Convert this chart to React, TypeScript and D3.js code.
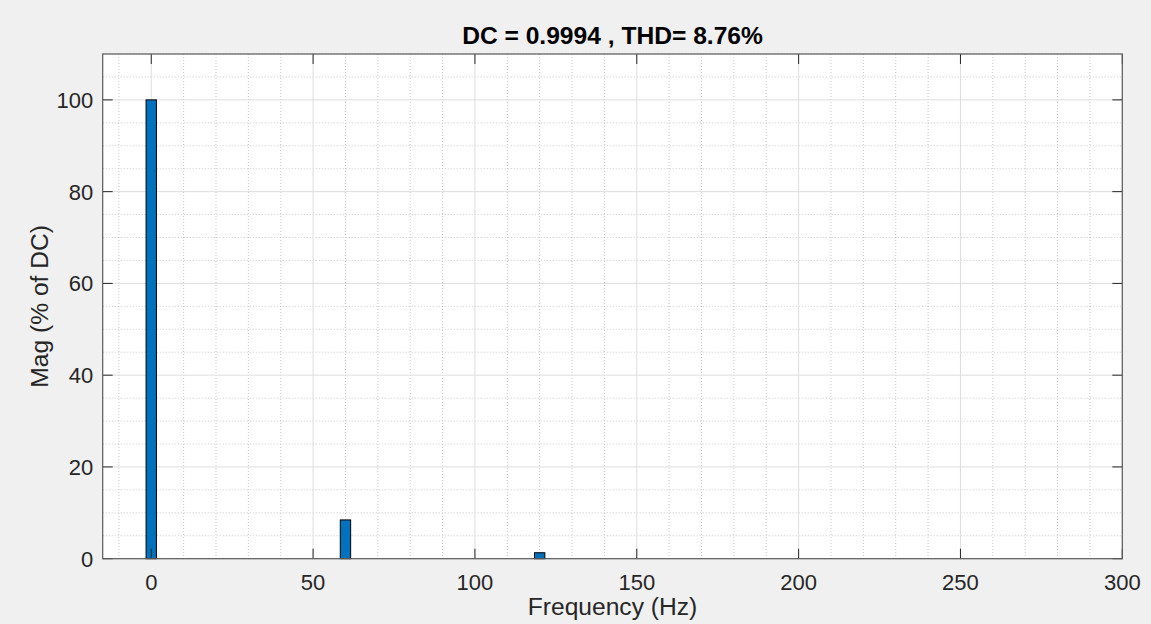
import React from "react";
import * as d3 from "d3";

const frequencies = [0, 60, 120];
const magnitudes = [100, 8.45, 1.3];
const xTicks = [0, 50, 100, 150, 200, 250, 300];
const yTicks = [0, 20, 40, 60, 80, 100];
const xDomain = [-15, 300];
const yDomain = [0, 110];
const barWidthHz = 3.2;
const titleText = "DC = 0.9994 , THD= 8.76%";
const xLabel = "Frequency (Hz)";
const yLabel = "Mag (% of DC)";

export default function App() {
  const W = 1151, H = 624;
  const m = { left: 102.7, right: 1122.3, top: 54, bottom: 558.7 };
  const x = d3.scaleLinear().domain(xDomain).range([m.left, m.right]);
  const y = d3.scaleLinear().domain(yDomain).range([m.bottom, m.top]);
  const xMinor = d3.range(-10, 301, 10).filter((v) => v % 50 !== 0);
  const yMinor = d3.range(5, 111, 5).filter((v) => v % 20 !== 0);
  const font = "'Liberation Sans', Arial, Helvetica, sans-serif";
  const axisColor = "#262626";
  const tickLen = 10;
  return (
    <svg width={W} height={H} style={{ position: "absolute", left: 0, top: 0, display: "block" }} fontFamily={font}>
      <rect x={0} y={0} width={W} height={H} fill="#f0f0f0" />
      <rect x={m.left} y={m.top} width={m.right - m.left} height={m.bottom - m.top} fill="#ffffff" />
      {/* minor grid */}
      {xMinor.map((v) => (
        <line key={"xm" + v} x1={x(v)} x2={x(v)} y1={m.top} y2={m.bottom} stroke="#c8c8c8" strokeWidth={1} strokeDasharray="1,2" />
      ))}
      {yMinor.map((v) => (
        <line key={"ym" + v} x1={m.left} x2={m.right} y1={y(v)} y2={y(v)} stroke="#c8c8c8" strokeWidth={1} strokeDasharray="1,2" />
      ))}
      {/* major grid */}
      {xTicks.map((v) => (
        <line key={"xg" + v} x1={x(v)} x2={x(v)} y1={m.top} y2={m.bottom} stroke="#dedede" strokeWidth={1} />
      ))}
      {yTicks.map((v) => (
        <line key={"yg" + v} x1={m.left} x2={m.right} y1={y(v)} y2={y(v)} stroke="#dedede" strokeWidth={1} />
      ))}
      {/* bars */}
      {frequencies.map((f, i) => (
        <rect
          key={"b" + f}
          x={x(f - barWidthHz / 2)}
          y={y(magnitudes[i])}
          width={x(f + barWidthHz / 2) - x(f - barWidthHz / 2)}
          height={y(0) - y(magnitudes[i])}
          fill="#0072BD"
          stroke="#000000"
          strokeWidth={1}
        />
      ))}
      {/* ticks */}
      {xTicks.map((v) => (
        <g key={"xt" + v}>
          <line x1={x(v)} x2={x(v)} y1={m.bottom} y2={m.bottom - tickLen} stroke={axisColor} />
          <line x1={x(v)} x2={x(v)} y1={m.top} y2={m.top + tickLen} stroke={axisColor} />
          <text x={x(v)} y={590} textAnchor="middle" fontSize={22} fill={axisColor}>{v}</text>
        </g>
      ))}
      {yTicks.map((v) => (
        <g key={"yt" + v}>
          <line x1={m.left} x2={m.left + tickLen} y1={y(v)} y2={y(v)} stroke={axisColor} />
          <line x1={m.right} x2={m.right - tickLen} y1={y(v)} y2={y(v)} stroke={axisColor} />
          <text x={m.left - 9.5} y={y(v) + 7.9} textAnchor="end" fontSize={22} fill={axisColor}>{v}</text>
        </g>
      ))}
      {/* box */}
      <rect x={m.left} y={m.top} width={m.right - m.left} height={m.bottom - m.top} fill="none" stroke="#5a5a5a" strokeWidth={1.2} />
      <text x={(m.left + m.right) / 2} y={44} textAnchor="middle" fontSize={24.6} fontWeight="bold" fill="#000">{titleText}</text>
      <text x={(m.left + m.right) / 2} y={615} textAnchor="middle" fontSize={24.6} fill={axisColor}>{xLabel}</text>
      <text transform={`translate(48, ${(m.top + m.bottom) / 2}) rotate(-90)`} textAnchor="middle" fontSize={24.6} fill={axisColor}>{yLabel}</text>
    </svg>
  );
}
